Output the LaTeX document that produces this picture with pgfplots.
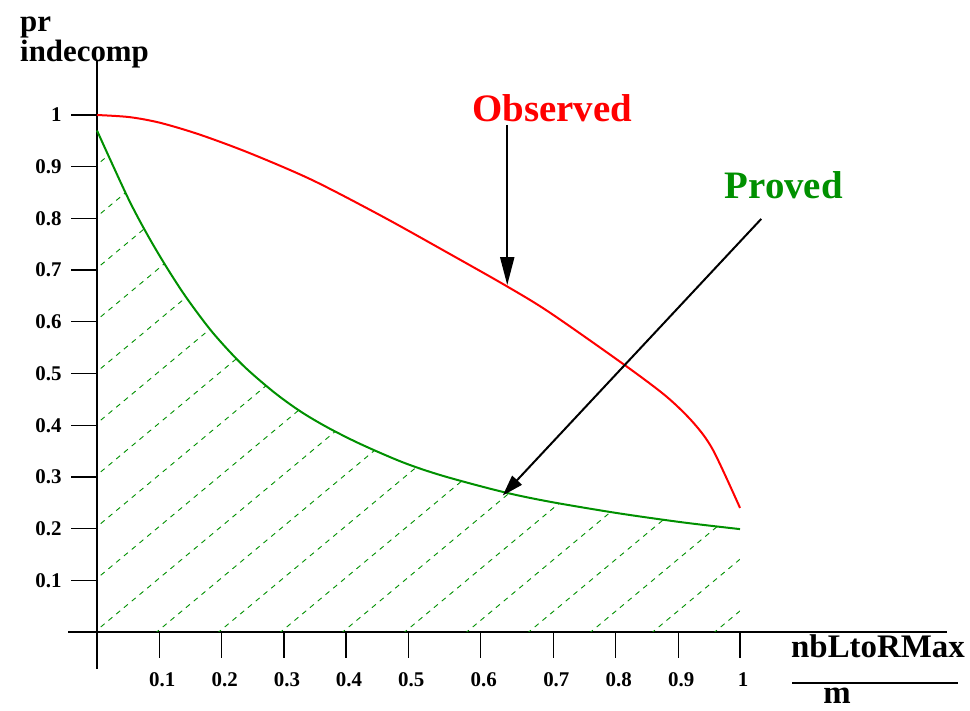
\documentclass[border=0pt]{standalone}
\usepackage{fontspec}
\setmainfont{Liberation Serif}
\usepackage{pgfplots}
\pgfplotsset{compat=1.18}
\usetikzlibrary{arrows.meta,patterns.meta}
\definecolor{obsred}{RGB}{255,0,0}
\definecolor{provgreen}{RGB}{0,144,0}
\tikzdeclarepattern{
  name=greenhatch,
  type=uncolored,
  bottom left={(-1bp,-1bp)},
  top right={(63bp,52.7bp)},
  tile size={(62bp,51.7bp)},
  code={
    \draw[line width=0.9bp, dash pattern=on 5.05bp off 5.04bp] (0,0) -- (62bp,51.7bp);
  }
}
\newcommand\tl{\bfseries\fontsize{21}{21}\selectfont}
\newcommand\al{\bfseries\fontsize{31}{31}\selectfont}
\newcommand\xl{\bfseries\fontsize{33}{33}\selectfont}
\newcommand\bl{\bfseries\fontsize{39}{39}\selectfont}
\newcommand\T[1]{\mbox{\tl #1}}
\pgfplotstableread{
x y
0 0.970
0.048 0.840
0.079 0.767
0.109 0.704
0.140 0.645
0.180 0.579
0.226 0.517
0.274 0.465
0.316 0.427
0.358 0.396
0.409 0.364
0.476 0.328
0.538 0.302
0.631 0.271
0.704 0.252
0.809 0.230
0.911 0.212
1.0 0.199
}\proved
\pgfplotstableread{
x y
0 1.0
0.05 0.996
0.098 0.985
0.16 0.962
0.238 0.926
0.335 0.874
0.445 0.803
0.549 0.731
0.637 0.669
0.704 0.618
0.821 0.516
0.886 0.455
0.928 0.404
0.958 0.352
1.0 0.240
}\observed
\begin{document}
\begin{tikzpicture}
\useasboundingbox (0,0) rectangle (970bp,-711bp);
\begin{axis}[
  at={(68bp,-669bp)}, anchor=south west,
  scale only axis, width=879bp, height=609bp,
  xmin=-0.0451, xmax=1.3219, ymin=-0.0716, ymax=1.1064,
  axis lines=middle,
  axis line style={-, line width=2bp},
  clip=false,
  tick align=outside,
  major tick length=26bp,
  tick style={line width=1.3bp, black},
  xtick={0.0969,0.194,0.2908,0.3872,0.4841,0.5967,0.7097,0.8067,0.9040,1},
  xticklabels={\T{0.1},\T{0.2},\T{0.3},\T{0.4},\T{0.5},\T{0.6},\T{0.7},\T{0.8},\T{0.9},\T{1}},
  ytick={0.1,0.2,0.3,0.4,0.5,0.6,0.7,0.8,0.9,1},
  yticklabels={\T{0.1},\T{0.2},\T{0.3},\T{0.4},\T{0.5},\T{0.6},\T{0.7},\T{0.8},\T{0.9},\T{1}},
  xticklabel style={anchor=center, yshift=-22bp, xshift=3bp},
  yticklabel style={anchor=east, xshift=-6bp},
]
\addplot[draw=none, pattern=greenhatch, pattern color=provgreen] table[x=x,y=y] {\proved} \closedcycle;
\addplot[provgreen, line width=2bp, smooth, tension=0.5] table[x=x,y=y] {\proved};
\addplot[obsred, line width=2bp, smooth, tension=0.5] table[x=x,y=y] {\observed};
\draw[line width=2bp, -{Triangle[length=28bp,width=14bp]}] (axis cs:0.638,0.981) -- (axis cs:0.638,0.671);
\draw[line width=2bp, -{Triangle[length=21bp,width=13bp]}] (axis cs:1.033,0.799) -- (axis cs:0.631,0.264);
\node[anchor=base, text=obsred, font=\bl] at (axis cs:0.708,0.987) {Observed};
\node[anchor=base, text=provgreen, font=\bl] at (axis cs:1.068,0.839) {Proved};
\end{axis}
\node[anchor=base west, inner sep=0pt, font=\al] at (20bp,-31.7bp) {pr};
\node[anchor=base west, inner sep=0pt, font=\al] at (20bp,-61.7bp) {indecomp};
\node[anchor=base west, inner sep=0pt, font=\xl] at (791bp,-657.7bp) {nbLtoRMax};
\draw[line width=2bp] (792bp,-683bp) -- (958bp,-683bp);
\node[anchor=base, inner sep=0pt, font=\xl] at (837bp,-703bp) {m};
\end{tikzpicture}
\end{document}
